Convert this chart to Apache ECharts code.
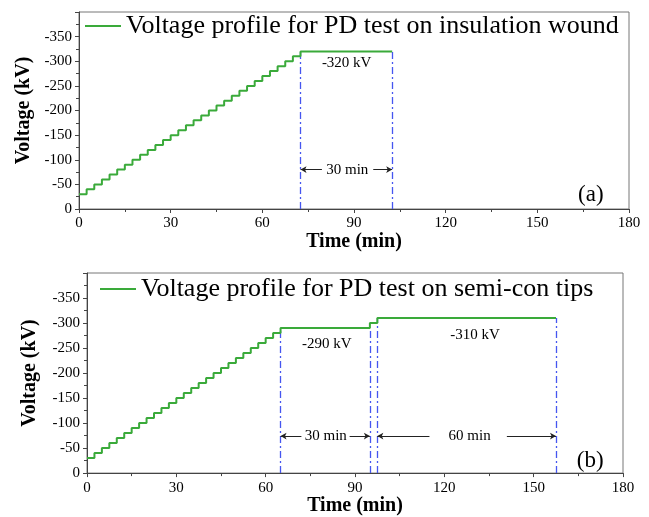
<!DOCTYPE html>
<html>
<head>
<meta charset="utf-8">
<script src="https://cdn.jsdelivr.net/npm/echarts@6/dist/echarts.min.js"></script>
<style>
  html, body { margin: 0; padding: 0; background: #fff; }
  #chart { width: 649px; height: 517px; }
</style>
</head>
<body>
<div id="chart"></div>
<script>
// time breakpoints (min) and voltage level (kV) held from that time on
const stepTimesA = [0, 2.5, 5, 7.5, 10, 12.5, 15, 17.5, 20, 22.5, 25, 27.5, 30, 32.5, 35, 37.5,
  40, 42.5, 45, 47.5, 50, 52.5, 55, 57.5, 60, 62.5, 65, 67.5, 70, 72.5, 102.5]
const stepVoltsA = [-30, -40, -50, -60, -70, -80, -90, -100, -110, -120, -130, -140, -150, -160, -170, -180,
  -190, -200, -210, -220, -230, -240, -250, -260, -270, -280, -290, -300, -310, -320, -320]

const stepTimesB = [0, 2.5, 5, 7.5, 10, 12.5, 15, 17.5, 20, 22.5, 25, 27.5, 30, 32.5, 35, 37.5,
  40, 42.5, 45, 47.5, 50, 52.5, 55, 57.5, 60, 62.5, 65, 95, 97.5, 157.5]
const stepVoltsB = [-30, -40, -50, -60, -70, -80, -90, -100, -110, -120, -130, -140, -150, -160, -170, -180,
  -190, -200, -210, -220, -230, -240, -250, -260, -270, -280, -290, -300, -310, -310]

// dwell period boundaries (blue dash-dot lines)
const dwellTimesA = [72.5, 102.5]
const dwellTopsA = [-320, -320]
const dwellTimesB = [65, 95, 97.5, 157.5]
const dwellTopsB = [-290, -290, -310, -310]

const xTicks = [0, 30, 60, 90, 120, 150, 180]
const nameA = 'Voltage profile for PD test on insulation wound'
const nameB = 'Voltage profile for PD test on semi-con tips'

const serif = "'Liberation Serif', 'Times New Roman', serif"
const green = '#3aaa3a'
const blue = '#4656f0'

function pairs(xs, ys) {
  return xs.map((x, i) => [x, ys[i]])
}

function xAxisFor(gi, gap) {
  return {
    type: 'value', gridIndex: gi, min: xTicks[0], max: xTicks[xTicks.length - 1], interval: 30,
    name: 'Time (min)', nameLocation: 'middle', nameGap: gap,
    nameTextStyle: { fontFamily: serif, fontSize: 20, fontWeight: 'bold', color: '#000' },
    axisLine: { show: true, lineStyle: { color: '#444', width: 1 } },
    axisTick: { show: true, length: 4, lineStyle: { color: '#444' } },
    minorTick: { show: true, splitNumber: 2, length: 3, lineStyle: { color: '#444' } },
    splitLine: { show: false },
    axisLabel: { fontFamily: serif, fontSize: 15, color: '#000', margin: 7 }
  }
}

function yAxisFor(gi, gap) {
  return {
    type: 'value', gridIndex: gi, min: -400, max: 0, interval: 50, inverse: true,
    name: 'Voltage (kV)', nameLocation: 'middle', nameGap: gap,
    nameTextStyle: { fontFamily: serif, fontSize: 20, fontWeight: 'bold', color: '#000' },
    axisLine: { show: true, lineStyle: { color: '#444', width: 1 } },
    axisTick: { show: true, length: 4, lineStyle: { color: '#444' } },
    minorTick: { show: true, splitNumber: 2, length: 3, lineStyle: { color: '#444' } },
    splitLine: { show: false },
    axisLabel: {
      fontFamily: serif, fontSize: 15, color: '#000', margin: 7,
      formatter: v => (v === -400 ? '' : String(v))
    }
  }
}

function dwellSeries(gi, times, tops) {
  return {
    type: 'line', xAxisIndex: gi, yAxisIndex: gi, data: [], silent: true,
    markLine: {
      silent: true, animation: false, symbol: ['none', 'none'],
      label: { show: false },
      lineStyle: { color: blue, width: 1.3, type: [7, 3, 2, 3] },
      data: times.map((t, i) => [{ coord: [t, 0] }, { coord: [t, tops[i]] }])
    }
  }
}

// text notes + span arrows for one panel
function noteSeries(gi, notes, arrows) {
  return {
    type: 'scatter', xAxisIndex: gi, yAxisIndex: gi, symbolSize: 0, silent: true,
    itemStyle: { opacity: 1 },
    data: notes.map(n => ({ value: [n[0], n[1]], label: { fontSize: n[3] || 15 }, name: n[2] })),
    label: {
      show: true, position: 'inside', fontFamily: serif, color: '#000', opacity: 1,
      formatter: p => p.name
    },
    markLine: {
      silent: true, animation: false, symbol: ['none', 'arrow'], symbolSize: [5, 6],
      label: { show: false },
      lineStyle: { color: '#222', width: 1, type: 'solid' },
      data: arrows.map(a => [{ coord: [a[0], a[2]] }, { coord: [a[1], a[2]] }])
    }
  }
}

function stepSeries(gi, name, xs, ys) {
  return {
    name: name, type: 'line', xAxisIndex: gi, yAxisIndex: gi, step: 'end',
    showSymbol: false, symbol: 'none', z: 5,
    lineStyle: { color: green, width: 2 },
    itemStyle: { color: green },
    data: pairs(xs, ys)
  }
}

const chart = echarts.init(document.getElementById('chart'))
const option = {
  animation: false,
  backgroundColor: '#fff',
  grid: [
    { left: 79, top: 12, width: 550, height: 197, show: true, borderColor: '#777', borderWidth: 1 },
    { left: 87, top: 273, width: 536, height: 204, show: true, borderColor: '#777', borderWidth: 1 }
  ],
  legend: [
    {
      data: [nameA], left: 85, top: 13, padding: 0, itemGap: 6,
      icon: 'rect', itemWidth: 36, itemHeight: 2,
      textStyle: { fontFamily: serif, fontSize: 26, color: '#000' }
    },
    {
      data: [nameB], left: 100, top: 276, padding: 0, itemGap: 6,
      icon: 'rect', itemWidth: 36, itemHeight: 2,
      textStyle: { fontFamily: serif, fontSize: 26, color: '#000' }
    }
  ],
  xAxis: [xAxisFor(0, 22), xAxisFor(1, 20)],
  yAxis: [yAxisFor(0, 43), yAxisFor(1, 47)],
  series: [
    dwellSeries(0, dwellTimesA, dwellTopsA),
    dwellSeries(1, dwellTimesB, dwellTopsB),
    stepSeries(0, nameA, stepTimesA, stepVoltsA),
    stepSeries(1, nameB, stepTimesB, stepVoltsB),
    noteSeries(0,
      [[87.6, -296, '-320 kV'], [87.8, -80, '30 min'], [167.5, -29, '(a)', 23]],
      [[79.5, 72.5, -80], [96.3, 102.5, -80]]),
    noteSeries(1,
      [[80.5, -258, '-290 kV'], [130.3, -276, '-310 kV'], [80.2, -74, '30 min'], [128.5, -74, '60 min'], [169, -24, '(b)', 23]],
      [[72, 65, -74], [88.2, 95, -74], [115, 97.5, -74], [141, 157.5, -74]])
  ]
}
chart.setOption(option)
</script>
</body>
</html>
